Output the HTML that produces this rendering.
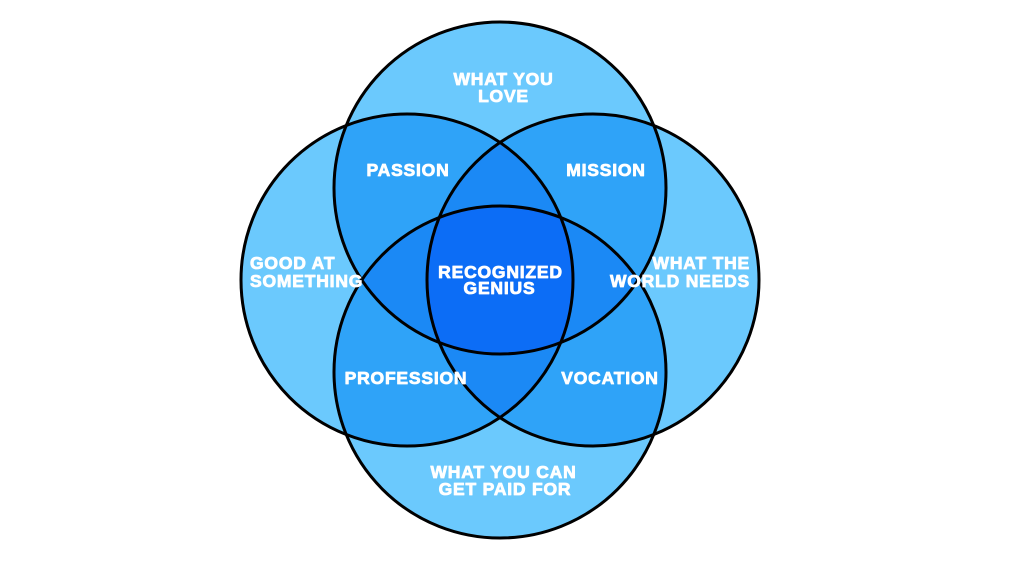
<!DOCTYPE html>
<html>
<head>
<meta charset="utf-8">
<style>
  html, body { margin:0; padding:0; background:#ffffff; }
  body { width:1024px; height:576px; overflow:hidden; }
  svg { display:block; }
  text { font-family: "Liberation Sans", Arial, sans-serif; font-weight:bold; font-size:17.5px; fill:#ffffff; stroke:#ffffff; stroke-width:0.8px; stroke-linejoin:round; letter-spacing:0.8px; }
</style>
</head>
<body>
<svg width="1024" height="576" viewBox="0 0 1024 576" xmlns="http://www.w3.org/2000/svg">
  <defs>
    <clipPath id="cT"><circle cx="500" cy="188" r="166"/></clipPath>
    <clipPath id="cB"><circle cx="500" cy="372" r="166"/></clipPath>
    <clipPath id="cL"><circle cx="407" cy="280" r="166"/></clipPath>
    <clipPath id="cR"><circle cx="593" cy="280" r="166"/></clipPath>
  </defs>

  <!-- level 1 -->
  <g fill="#6bc9fd">
    <circle cx="500" cy="188" r="166"/>
    <circle cx="500" cy="372" r="166"/>
    <circle cx="407" cy="280" r="166"/>
    <circle cx="593" cy="280" r="166"/>
  </g>

  <!-- level 2 (pairs) -->
  <g fill="#2fa3f8">
    <circle cx="500" cy="188" r="166" clip-path="url(#cL)"/>
    <circle cx="500" cy="188" r="166" clip-path="url(#cR)"/>
    <circle cx="500" cy="188" r="166" clip-path="url(#cB)"/>
    <circle cx="500" cy="372" r="166" clip-path="url(#cL)"/>
    <circle cx="500" cy="372" r="166" clip-path="url(#cR)"/>
    <circle cx="407" cy="280" r="166" clip-path="url(#cR)"/>
  </g>

  <!-- level 3 (triples) -->
  <g fill="#1b89f5">
    <g clip-path="url(#cL)"><circle cx="500" cy="188" r="166" clip-path="url(#cR)"/></g>
    <g clip-path="url(#cL)"><circle cx="500" cy="372" r="166" clip-path="url(#cR)"/></g>
    <g clip-path="url(#cL)"><circle cx="500" cy="188" r="166" clip-path="url(#cB)"/></g>
    <g clip-path="url(#cR)"><circle cx="500" cy="188" r="166" clip-path="url(#cB)"/></g>
  </g>

  <!-- level 4 -->
  <g clip-path="url(#cL)">
    <g clip-path="url(#cR)">
      <circle cx="500" cy="188" r="166" clip-path="url(#cB)" fill="#0c6df6"/>
    </g>
  </g>

  <!-- outlines -->
  <g fill="none" stroke="#000000" stroke-width="3">
    <circle cx="500" cy="188" r="166"/>
    <circle cx="500" cy="372" r="166"/>
    <circle cx="407" cy="280" r="166"/>
    <circle cx="593" cy="280" r="166"/>
  </g>

  <!-- labels -->
  <text x="503.5" y="85" text-anchor="middle">WHAT YOU</text>
  <text x="503.5" y="102" text-anchor="middle">LOVE</text>

  <text x="408" y="176" text-anchor="middle">PASSION</text>
  <text x="606" y="176" text-anchor="middle">MISSION</text>

  <text x="250" y="269">GOOD AT</text>
  <text x="250" y="287">SOMETHING</text>

  <text x="500.5" y="278" text-anchor="middle">RECOGNIZED</text>
  <text x="499.5" y="294" text-anchor="middle">GENIUS</text>

  <text x="750" y="269" text-anchor="end">WHAT THE</text>
  <text x="750" y="287" text-anchor="end">WORLD NEEDS</text>

  <text x="406" y="384" text-anchor="middle">PROFESSION</text>
  <text x="610" y="384" text-anchor="middle">VOCATION</text>

  <text x="503.5" y="478" text-anchor="middle">WHAT YOU CAN</text>
  <text x="505" y="495" text-anchor="middle">GET PAID FOR</text>
</svg>
</body>
</html>
